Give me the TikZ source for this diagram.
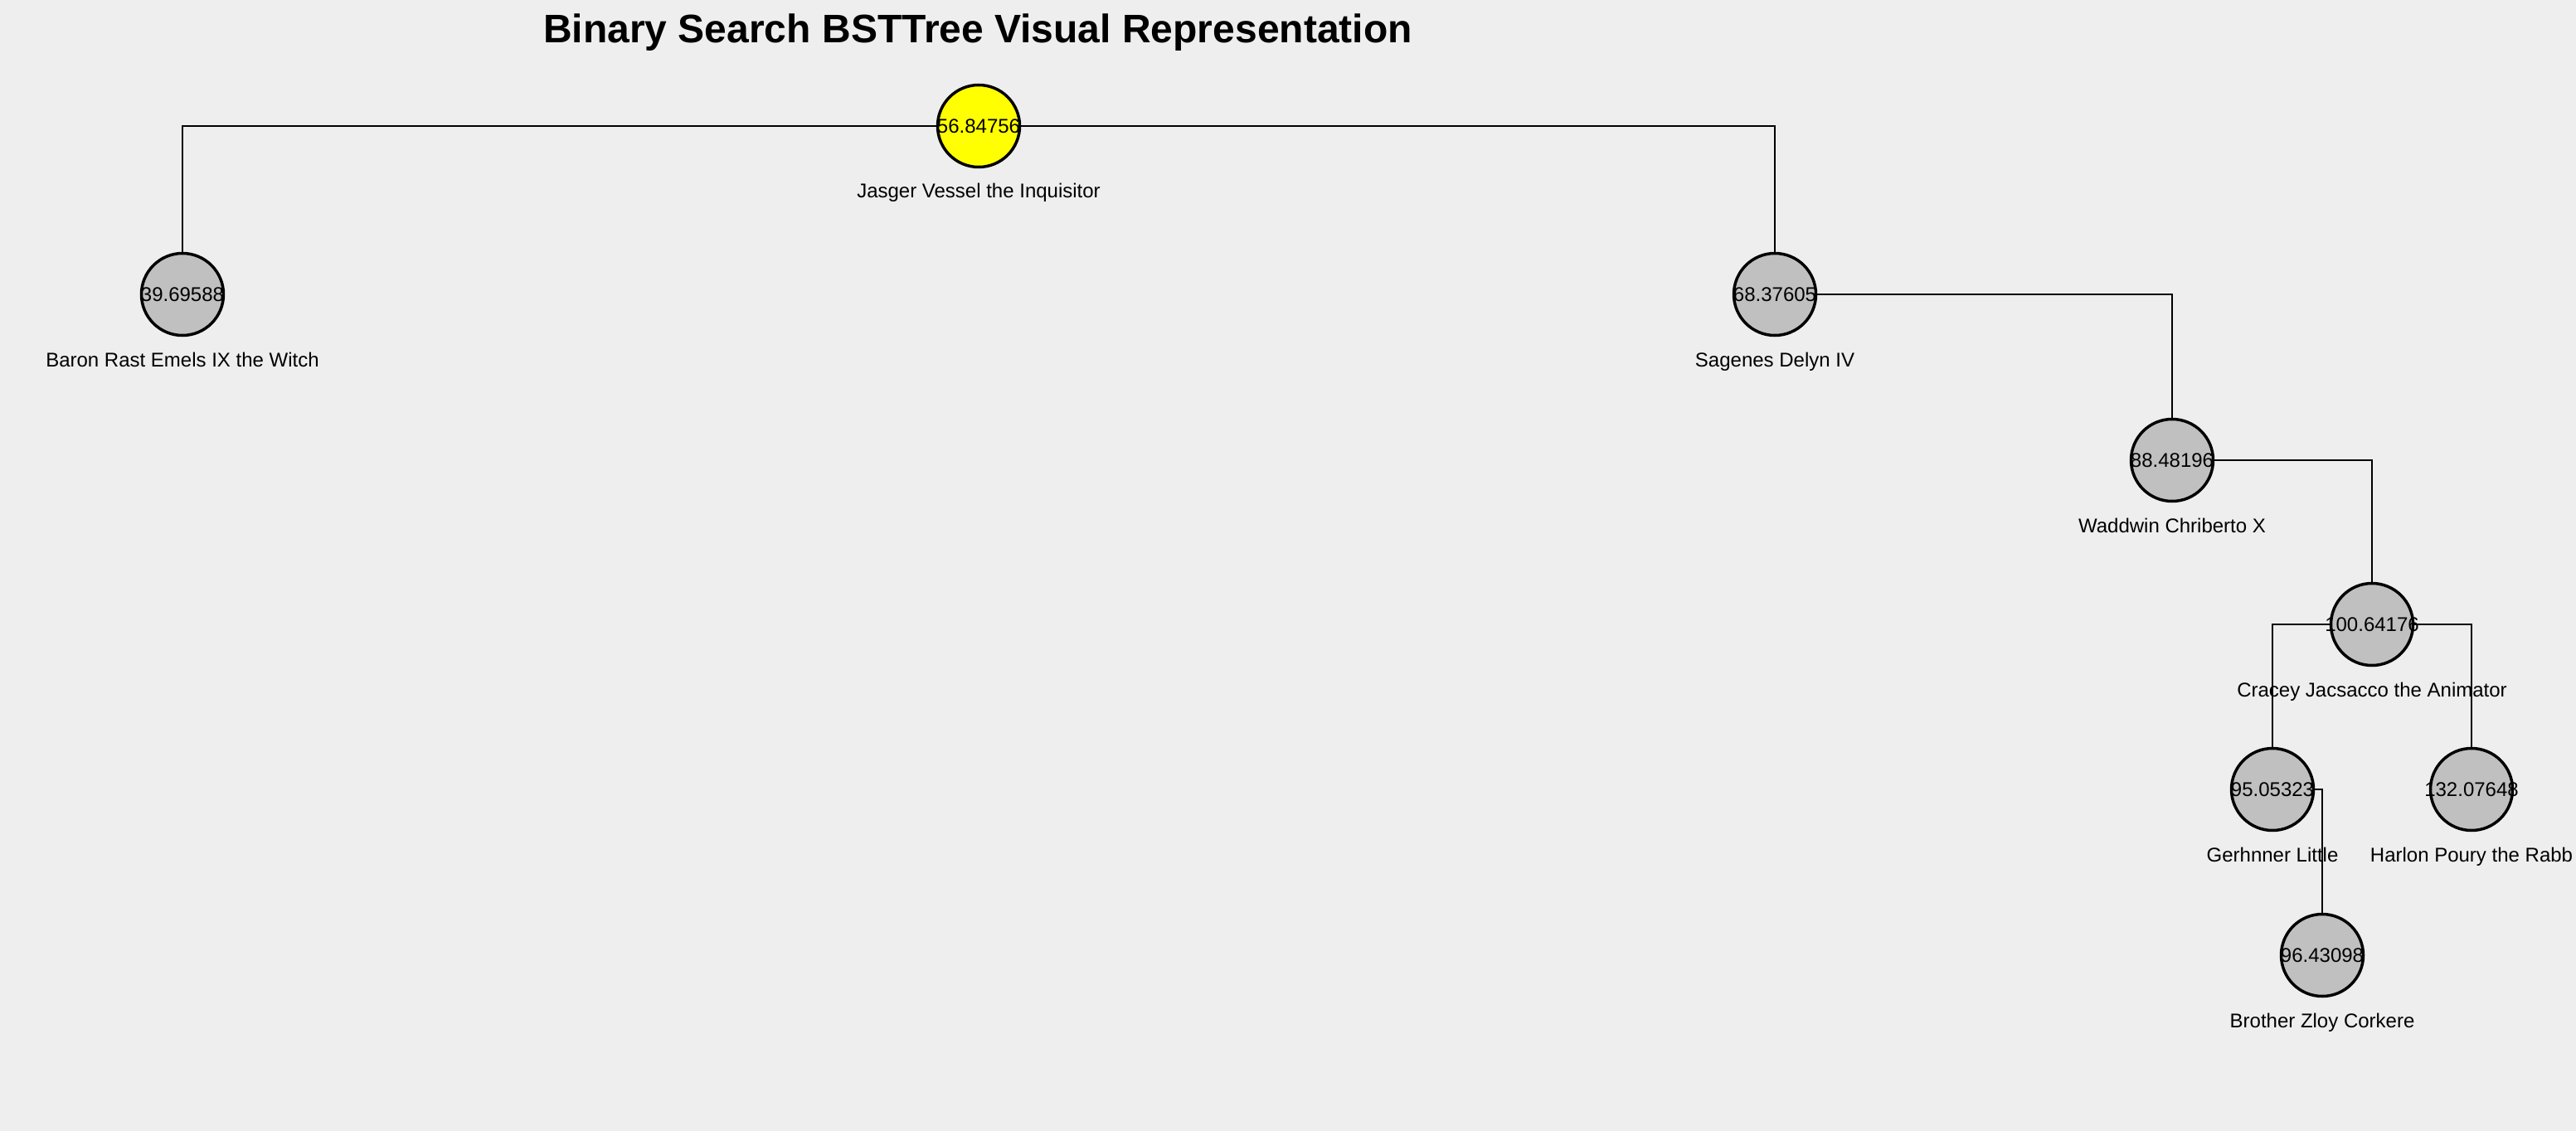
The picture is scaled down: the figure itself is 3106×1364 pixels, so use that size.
\documentclass[tikz,border=0pt]{standalone}
\usepackage{fontspec}
\setmainfont{Liberation Sans}
\definecolor{BackClr}{RGB}{238,238,238}
\definecolor{NodeClr}{RGB}{192,192,192}
\definecolor{RootClr}{RGB}{255,255,0}

\begin{document}
\begin{tikzpicture}[x=1pt,y=-1pt,
  keynode/.style={circle,draw=black,line width=3.5pt,fill=NodeClr,minimum size=99pt,inner sep=0pt,font=\fontsize{24}{28}\selectfont},
  namelbl/.style={anchor=base,inner sep=0pt,font=\fontsize{24}{28}\selectfont},
  branch/.style={line width=2pt,color=black}]

\fill[BackClr] (0,0) rectangle (3106,1364);
\useasboundingbox (0,0) rectangle (3106,1364);

\node[anchor=base,inner sep=0pt,font=\bfseries\fontsize{48}{54}\selectfont] (title) at (1179,52) {Binary Search BSTTree Visual Representation};

\node[keynode,fill=RootClr] (n56) at (1180,152) {\makebox[0pt]{56.84756}};
\node[keynode] (n39) at (220,355) {\makebox[0pt]{39.69588}};
\node[keynode] (n68) at (2140,355) {\makebox[0pt]{68.37605}};
\node[keynode] (n88) at (2619,555) {\makebox[0pt]{88.48196}};
\node[keynode] (n100) at (2860,753) {\makebox[0pt]{100.64176}};
\node[keynode] (n95) at (2740,952) {\makebox[0pt]{95.05323}};
\node[keynode] (n132) at (2980,952) {\makebox[0pt]{132.07648}};
\node[keynode] (n96) at (2800,1152) {\makebox[0pt]{96.43098}};

\node[namelbl] (n56lbl) at ([yshift=-87pt]n56.center) {Jasger Vessel the Inquisitor};
\node[namelbl] (n39lbl) at ([yshift=-87pt]n39.center) {Baron Rast Emels IX the Witch};
\node[namelbl] (n68lbl) at ([yshift=-87pt]n68.center) {Sagenes Delyn IV};
\node[namelbl] (n88lbl) at ([yshift=-87pt]n88.center) {Waddwin Chriberto X};
\node[namelbl] (n100lbl) at ([yshift=-87pt]n100.center) {Cracey Jacsacco the Animator};
\node[namelbl] (n95lbl) at ([yshift=-87pt]n95.center) {Gerhnner Little};
\node[namelbl] (n132lbl) at ([yshift=-87pt]n132.center) {Harlon Poury the Rabb};
\node[namelbl] (n96lbl) at ([yshift=-87pt]n96.center) {Brother Zloy Corkere};

\draw[branch] (n56.west) -| (n39.north);
\draw[branch] (n56.east) -| (n68.north);
\draw[branch] (n68.east) -| (n88.north);
\draw[branch] (n88.east) -| (n100.north);
\draw[branch] (n100.west) -| (n95.north);
\draw[branch] (n100.east) -| (n132.north);
\draw[branch] (n95.east) -| (n96.north);

\end{tikzpicture}
\end{document}
